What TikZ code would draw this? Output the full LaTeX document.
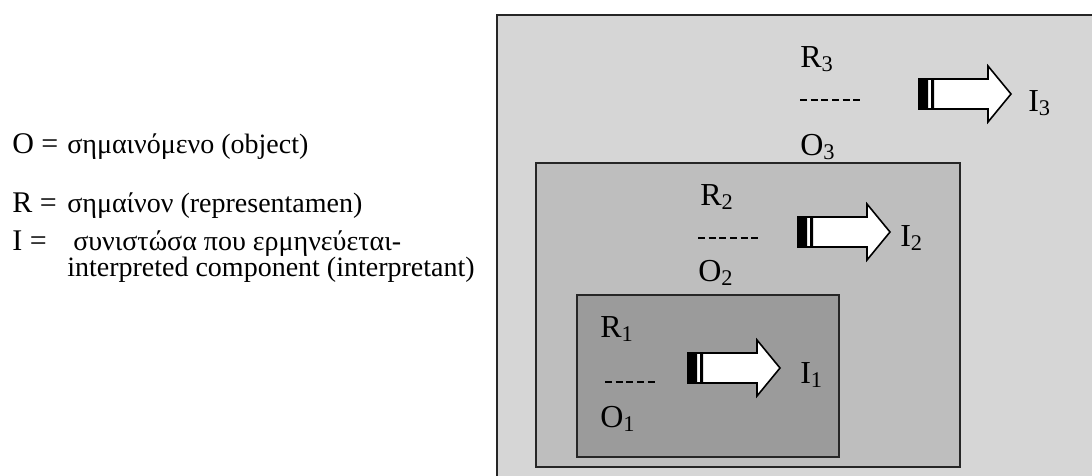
\documentclass[tikz,border=0pt]{standalone}
\usepackage{fontspec}
\setmainfont{Liberation Serif}
\definecolor{outerfill}{RGB}{214,214,214}
\definecolor{middlefill}{RGB}{190,190,190}
\definecolor{innerfill}{RGB}{155,155,155}
\tikzset{
  lbl/.style={inner sep=0pt, anchor=base west, font=\fontsize{24}{24}\selectfont},
  key/.style={inner sep=0pt, anchor=base west, font=\fontsize{22.5}{22.5}\selectfont},
  desc/.style={inner sep=0pt, anchor=base west, font=\fontsize{21}{21}\selectfont},
  fracline/.style={line width=1.4pt, dash pattern=on 5.2pt off 2.8pt},
  box/.style={draw=black!85, line width=1.5pt},
  pics/interarrow/.style={code={
    \filldraw[fill=white, line width=1.2pt, line join=miter]
      (0,-15) -- (69,-15) -- (69,-28) -- (92,0) -- (69,28) -- (69,15) -- (0,15) -- cycle;
    \fill (0,-15) rectangle (9,15) (12,-15) rectangle (15,15);
  }}
}
\begin{document}
\begin{tikzpicture}[x=0.75pt, y=-0.75pt]
\clip (0,0) rectangle (1092,475);

% legend
\node[key]  (ko) at (12,153) {O =};
\node[desc] (do) at (67,153) {σημαινόμενο (object)};
\node[key]  (kr) at (12,212) {R =};
\node[desc] (dr) at (67,212) {σημαίνον (representamen)};
\node[key]  (ki) at (12,250) {I =};
\node[desc] (di) at (73,250) {συνιστώσα που ερμηνεύεται-};
\node[desc] (di2) at (67,276) {interpreted component (interpretant)};

% nested boxes
\fill[box, fill=outerfill]  (497,15) rectangle (1110,495);
\fill[box, fill=middlefill] (536,163) rectangle (960,467);
\fill[box, fill=innerfill]  (577,295) rectangle (839,457);

% level 3
\node[lbl] (r3) at (800,67)  {R\textsubscript{3}};
\draw[fracline] (800,100) -- (860,100);
\node[lbl] (o3) at (800,155) {O\textsubscript{3}};
\coordinate (t3) at (919,94);
\pic at (t3) {interarrow};
\node[lbl] (i3) at (1028,111) {I\textsubscript{3}};

% level 2
\node[lbl] (r2) at (700,205) {R\textsubscript{2}};
\draw[fracline] (698,238) -- (758,238);
\node[lbl] (o2) at (698,281) {O\textsubscript{2}};
\coordinate (t2) at (798,232);
\pic at (t2) {interarrow};
\node[lbl] (i2) at (900,246) {I\textsubscript{2}};

% level 1
\node[lbl] (r1) at (600,337) {R\textsubscript{1}};
\draw[fracline] (605,382) -- (655,382);
\node[lbl] (o1) at (600,427) {O\textsubscript{1}};
\coordinate (t1) at (688,368);
\pic at (t1) {interarrow};
\node[lbl] (i1) at (800,383) {I\textsubscript{1}};
\end{tikzpicture}
\end{document}
